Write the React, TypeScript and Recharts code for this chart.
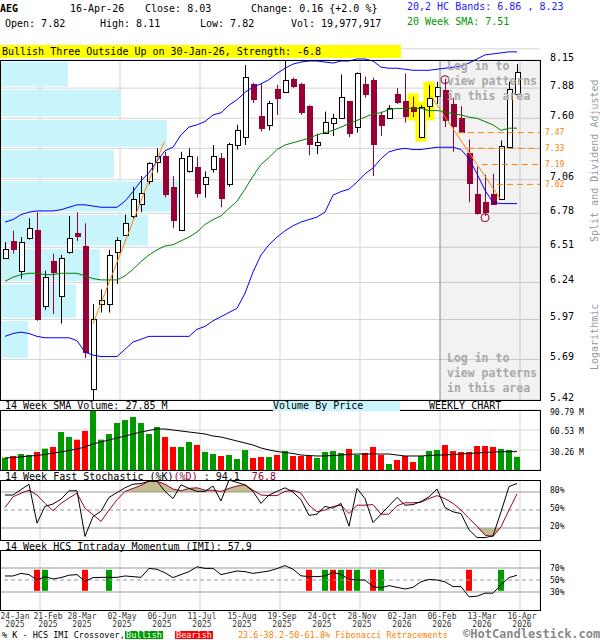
import React from "react";
import {
  ComposedChart,
  Bar,
  Line,
  Area,
  XAxis,
  YAxis,
  CartesianGrid,
  ReferenceArea,
  ReferenceLine,
  ReferenceDot,
  Cell,
} from "recharts";

const MONO = '"DejaVu Sans Mono", "Liberation Mono", monospace';
const MAROON = "#990033";
const VOL_GREEN = "#009900";
const VOL_RED = "#ff0000";
const BLUE = "#0000ff";
const SMA_GREEN = "#008000";
const ORANGE = "#ff8000";
const VBP_BLUE = "#c8f4fc";
const GRID = "#d3d3d3";

// weekly candles, 23-Jan-2025 .. 16-Apr-2026
const opens = [6.43, 6.56, 6.33, 6.58, 6.65, 6.07, 6.40, 6.14, 6.47, 6.62, 6.52, 5.49, 6.08, 6.08, 6.47, 6.61, 6.76, 6.86, 7.05, 7.21, 7.26, 7.0, 6.65, 7.13, 7.17, 7.02, 7.15, 7.25, 7.02, 7.36, 7.43, 7.92, 7.62, 7.54, 7.87, 7.84, 7.97, 7.92, 7.71, 7.36, 7.47, 7.56, 7.6, 7.76, 7.52, 7.92, 7.96, 7.63, 7.6, 7.82, 7.76, 7.7, 7.43, 7.71, 7.81, 7.86, 7.73, 7.6, 7.29, 6.94, 6.87, 6.94, 6.9, 7.34, 7.82];
const highs = [6.55, 6.64, 6.59, 6.74, 6.79, 6.33, 6.46, 6.45, 6.76, 6.79, 6.7, 6.08, 6.19, 6.49, 6.59, 6.77, 7.0, 7.09, 7.21, 7.33, 7.3, 7.09, 7.3, 7.33, 7.26, 7.13, 7.36, 7.29, 7.38, 7.54, 8.1, 7.93, 7.92, 7.76, 7.91, 8.15, 7.98, 7.93, 7.72, 7.46, 7.66, 7.64, 8.01, 7.76, 8.03, 7.99, 7.98, 7.66, 7.72, 7.88, 8.02, 7.8, 7.72, 7.91, 7.94, 7.97, 7.79, 7.71, 7.41, 7.17, 7.1, 7.11, 7.4, 7.94, 8.11];
const lows = [6.42, 6.46, 6.27, 6.57, 5.96, 6.04, 6.01, 5.94, 6.46, 6.56, 5.7, 5.42, 6.02, 6.02, 6.23, 6.6, 6.74, 6.79, 7.02, 7.12, 6.91, 6.66, 6.64, 7.12, 6.91, 6.91, 7.12, 6.83, 7.0, 7.32, 7.36, 7.74, 7.48, 7.49, 7.63, 7.84, 7.88, 7.63, 7.27, 7.28, 7.46, 7.44, 7.6, 7.43, 7.47, 7.79, 7.09, 7.44, 7.6, 7.73, 7.56, 7.61, 7.42, 7.61, 7.73, 7.52, 7.3, 7.47, 6.87, 6.77, 6.76, 6.85, 6.89, 7.34, 7.82];
const closes = [6.5, 6.5, 6.55, 6.66, 5.97, 6.28, 6.32, 6.43, 6.58, 6.6, 5.74, 5.97, 6.11, 6.45, 6.57, 6.7, 6.9, 6.95, 7.2, 7.26, 6.94, 6.73, 7.25, 7.26, 6.95, 7.08, 7.26, 6.91, 7.37, 7.49, 7.99, 7.78, 7.51, 7.74, 7.79, 7.96, 7.9, 7.66, 7.37, 7.39, 7.57, 7.6, 7.8, 7.47, 8.02, 7.82, 7.37, 7.54, 7.69, 7.75, 7.62, 7.67, 7.7, 7.79, 7.89, 7.58, 7.53, 7.48, 7.03, 6.78, 6.79, 6.86, 7.35, 7.87, 8.03];

// 20,2 HC bands and 20 week SMA
const upperBand = [6.71, 6.73, 6.77, 6.79, 6.8, 6.8, 6.8, 6.81, 6.83, 6.85, 6.85, 6.84, 6.83, 6.83, 6.83, 6.88, 6.96, 7.05, 7.12, 7.22, 7.31, 7.34, 7.45, 7.52, 7.54, 7.57, 7.63, 7.65, 7.72, 7.77, 7.84, 7.89, 7.92, 7.96, 8.02, 8.07, 8.11, 8.13, 8.14, 8.14, 8.13, 8.12, 8.14, 8.14, 8.16, 8.16, 8.14, 8.08, 8.07, 8.07, 8.06, 8.05, 8.05, 8.05, 8.06, 8.07, 8.08, 8.09, 8.12, 8.16, 8.2, 8.21, 8.22, 8.23, 8.23];
const lowerBand = [5.85, 5.87, 5.88, 5.87, 5.85, 5.84, 5.84, 5.84, 5.84, 5.82, 5.74, 5.72, 5.71, 5.71, 5.71, 5.76, 5.81, 5.83, 5.85, 5.85, 5.85, 5.85, 5.85, 5.85, 5.9, 5.92, 5.96, 5.99, 6.02, 6.05, 6.16, 6.32, 6.45, 6.53, 6.59, 6.64, 6.68, 6.71, 6.73, 6.75, 6.79, 6.93, 6.96, 6.98, 7.04, 7.11, 7.16, 7.24, 7.3, 7.32, 7.33, 7.32, 7.32, 7.33, 7.34, 7.34, 7.34, 7.32, 7.24, 7.11, 6.97, 6.87, 6.86, 6.86, 6.86];
const sma20 = [6.25, 6.28, 6.3, 6.31, 6.31, 6.3, 6.3, 6.31, 6.31, 6.31, 6.29, 6.27, 6.26, 6.26, 6.26, 6.29, 6.34, 6.4, 6.45, 6.49, 6.52, 6.53, 6.56, 6.59, 6.63, 6.69, 6.73, 6.76, 6.82, 6.88, 6.98, 7.09, 7.19, 7.25, 7.32, 7.36, 7.38, 7.4, 7.42, 7.45, 7.47, 7.49, 7.52, 7.55, 7.58, 7.61, 7.64, 7.65, 7.68, 7.69, 7.69, 7.69, 7.69, 7.67, 7.67, 7.66, 7.64, 7.63, 7.61, 7.6, 7.57, 7.54, 7.49, 7.51, 7.51];

// volume in millions and its 14 week SMA
const volumes = [18.6, 21.2, 24.2, 22.7, 27.2, 32.3, 34.8, 57.5, 49.9, 45.9, 59.0, 90.8, 45.9, 54.5, 71.1, 75.6, 80.2, 71.1, 54.5, 65.1, 49.9, 34.8, 34.8, 42.4, 37.8, 27.2, 24.2, 21.2, 22.7, 16.6, 30.3, 18.2, 19.7, 19.7, 22.7, 28.7, 21.2, 21.2, 21.2, 18.2, 27.2, 28.7, 25.7, 31.8, 22.7, 25.7, 34.8, 22.7, 9.1, 15.1, 21.2, 12.1, 21.2, 28.7, 30.3, 37.8, 28.7, 27.2, 27.2, 36.3, 36.3, 34.8, 31.8, 30.3, 20.0];
const volumeSma = [18.2, 18.9, 19.7, 21.2, 21.9, 23.5, 25.7, 27.2, 29.5, 31.8, 34.8, 39.3, 42.4, 45.4, 48.4, 51.4, 54.5, 57.5, 59.8, 62.0, 62.0, 60.5, 59.0, 57.5, 56.0, 54.5, 51.4, 49.9, 46.9, 43.9, 40.9, 37.8, 33.3, 30.3, 28.0, 26.5, 25.0, 22.7, 21.9, 21.2, 21.2, 21.9, 22.7, 23.5, 24.2, 24.2, 24.2, 24.2, 24.2, 22.7, 21.2, 21.2, 21.2, 21.9, 22.7, 22.7, 23.5, 24.2, 25.0, 25.7, 26.5, 27.2, 27.5, 27.7, 27.85];

// 14 week fast stochastic
const stochK = [75, 75, 84, 93, 28, 56, 60, 68, 82, 82, 6, 39, 48, 71, 79, 87, 93, 94, 98, 98, 81, 69, 92, 86, 81, 81, 90, 65, 100, 96, 92, 81, 61, 75, 81, 87, 80, 67, 41, 43, 56, 53, 61, 23, 86, 69, 29, 43, 57, 71, 58, 59, 64, 72, 85, 54, 47, 44, 17, 4, 4, 7, 47, 89, 94.1];
const stochD = [54, 72, 78, 83, 75, 61, 49, 61, 70, 78, 53, 42, 31, 50, 67, 81, 86, 91, 98, 98, 93, 85, 82, 86, 87, 83, 83, 81, 86, 90, 92, 83, 75, 74, 74, 81, 83, 78, 58, 47, 50, 56, 58, 44, 58, 58, 59, 43, 43, 57, 62, 62, 63, 69, 74, 69, 61, 50, 36, 23, 8, 6, 22, 50, 76.8];

// 14 week HCS intraday momentum
const imi = [56.7, 56.7, 61, 59, 50, 55.6, 51.7, 54, 58, 59, 48, 54, 54.4, 54.4, 54.4, 56.7, 55.6, 54.4, 69.4, 67.8, 62, 54, 59, 64, 72, 69.4, 69.4, 59, 62, 65, 64, 61, 63, 65, 69, 74, 68, 57, 55.6, 55.6, 56.7, 62.8, 59.4, 51, 50, 50, 39, 37, 40.6, 37.8, 35, 37.8, 47, 51, 50, 47, 39, 39, 22, 23, 28, 28, 42, 54, 57.9];
const imiBullish = [5, 13, 40, 42, 44, 47, 62];
const imiBearish = [4, 10, 38, 41, 43, 46, 58];
const imiBarRange = [32, 67];

// annotations
const patternWeeks = [51, 52, 53];
const patternCircles = [
  { k: 55, price: 7.96 },
  { k: 60, price: 6.745 },
];
const trendLines = [
  { k1: 11, p1: 5.94, k2: 19.9, p2: 7.39 },
  { k1: 53.3, p1: 7.8, k2: 61.9, p2: 6.9 },
];
const fibLevels = [7.47, 7.33, 7.19, 7.02];
const fibStartWeek = [56.6, 57.9, 59.6, 61.5];

// volume by price, bins follow the price grid (relative volume, 1000 = full width)
const vbpLow = [7.88, 7.6, 7.33, 7.06, 6.78, 6.51, 6.24, 5.97, 5.69];
const vbpHigh = [8.15, 7.88, 7.6, 7.33, 7.06, 6.78, 6.51, 6.24, 5.97];
const vbpVolume = [126, 224, 309, 211, 337, 274, 185, 141, 52];

const priceTicks = [5.42, 5.69, 5.97, 6.24, 6.51, 6.78, 7.06, 7.33, 7.6, 7.88, 8.15];
const volTicks = [30.26, 60.53, 90.79];
const stochTicks = [20, 50, 80];
const imiTicks = [30, 50, 70];

const weekDomain = [-0.625, 66.875];
const gridWeeks = [4.375, 9.375, 14.375, 19.375, 24.375, 29.375, 34.375, 39.375, 44.375, 49.375, 54.375, 59.375, 64.375];
const labelWeeks = [1.25, 5.375, 9.625, 14.625, 19.625, 24.625, 29.625, 34.625, 39.625, 44.625, 49.625, 54.625, 59.625, 64.625];
const dateLabels = ["24-Jan", "21-Feb", "28-Mar", "02-May", "06-Jun", "11-Jul", "15-Aug", "19-Sep", "24-Oct", "28-Nov", "02-Jan", "06-Feb", "13-Mar", "16-Apr"];
const yearLabels = ["2025", "2025", "2025", "2025", "2025", "2025", "2025", "2025", "2025", "2025", "2026", "2026", "2026", "2026"];

const weekSpan = weekDomain[1] - weekDomain[0];

// the frame shows 5.42..8.15, the upper band may poke above it up to 8.26
const PRICE_MIN = 5.42;
const PRICE_FRAME_MAX = 8.15;
const PRICE_MAX = 8.26;
const FRAME_TOP = 60;
const FRAME_H = 340;
const priceTopMargin =
  FRAME_TOP - (FRAME_H * Math.log(PRICE_MAX / PRICE_FRAME_MAX)) / Math.log(PRICE_FRAME_MAX / PRICE_MIN);

const weeks = opens.map((open, k) => ({
  k,
  open,
  high: highs[k],
  low: lows[k],
  close: closes[k],
  range: [lows[k], highs[k]],
  vol: volumes[k],
  volSma: volumeSma[k],
  upper: upperBand[k],
  lower: lowerBand[k],
  sma: sma20[k],
  pk: stochK[k],
  pd: stochD[k],
  over: [80, Math.max(80, stochD[k])],
  under: [Math.min(20, stochD[k]), 20],
  imi: imi[k],
  cross: imiBullish.includes(k) || imiBearish.includes(k) ? imiBarRange : null,
}));

function Candle(props: any) {
  const { x, y, width, height, payload } = props;
  if (payload == null || x == null || y == null) return <g />;
  const { open, close, high, low } = payload;
  const lh = Math.log(high);
  const span = lh - Math.log(low) || 1;
  const toY = (v: number) => y + ((lh - Math.log(v)) / span) * height;
  const up = close >= open;
  const color = up ? "#000" : MAROON;
  const cx = Math.round(x + width / 2) + 0.5;
  const top = Math.round(toY(Math.max(open, close))) + 0.5;
  const bot = Math.round(toY(Math.min(open, close))) + 0.5;
  const left = Math.round(cx - 3) + 0.5;
  return (
    <g>
      <line x1={cx} x2={cx} y1={y} y2={y + height} stroke={color} strokeWidth={1} />
      <rect x={left} y={top} width={5} height={Math.max(bot - top, 1)} fill={up ? "#fff" : MAROON} stroke={color} strokeWidth={1} />
    </g>
  );
}

function PriceTick(props: any) {
  const { x, y, payload } = props;
  if (payload.value === 7.33) return <g />;
  return (
    <text x={x + 10} y={y + 0.5} fontSize={10} fontFamily={MONO} fill="#000">
      {payload.value.toFixed(2)}
    </text>
  );
}

function VolTick(props: any) {
  const { x, y, payload } = props;
  return (
    <text x={x + 10} y={y + 4.5} fontSize={8} fontFamily={MONO} fill="#000">
      {payload.value.toFixed(2) + " M"}
    </text>
  );
}

function PctTick(dy: number) {
  return (props: any) => (
    <text x={props.x + 10} y={props.y + dy} fontSize={8} fontFamily={MONO} fill="#000">
      {props.payload.value + "%"}
    </text>
  );
}

function DateTick(props: any) {
  const { x, y, index } = props;
  return (
    <g fontFamily={MONO} fontSize={8} fill="#333">
      <text x={x} y={y + 8.5} textAnchor="middle">{dateLabels[index]}</text>
      <text x={x} y={y + 16.5} textAnchor="middle">{yearLabels[index]}</text>
    </g>
  );
}

const Txt = ({ x, y, size = 10, color = "#000", bold = false, bg, w, center = false, children }: any) => (
  <div
    style={{
      position: "absolute",
      left: x,
      top: y - size / 2,
      fontSize: size,
      lineHeight: `${size}px`,
      height: size,
      color,
      fontWeight: bold ? "bold" : "normal",
      background: bg,
      width: w,
      textAlign: center ? "center" : "left",
      whiteSpace: "pre",
      fontFamily: MONO,
    }}
  >
    {children}
  </div>
);

const Frame = ({ top, height }: { top: number; height: number }) => (
  <div
    style={{
      position: "absolute",
      left: 0,
      top,
      width: 541,
      height: height + 1,
      border: "1px solid #000",
      boxSizing: "border-box",
      pointerEvents: "none",
    }}
  />
);

const hiddenWeekAxis = (
  <XAxis dataKey="k" type="number" domain={weekDomain} ticks={gridWeeks} hide height={0} allowDataOverflow />
);

const noAnim = { isAnimationActive: false, dot: false, activeDot: false } as const;

export default function App() {
  return (
    <div style={{ position: "absolute", left: 0, top: 0, width: 600, height: 640, background: "#fff", overflow: "hidden", fontFamily: MONO }}>
      {/* price panel */}
      <div style={{ position: "absolute", left: 0, top: 0 }}>
        <ComposedChart width={600} height={410} data={weeks} margin={{ top: priceTopMargin, right: 0, bottom: 10, left: 0 }}>
          <CartesianGrid stroke={GRID} y={FRAME_TOP} height={FRAME_H} />
          {hiddenWeekAxis}
          <YAxis
            orientation="right"
            scale="log"
            type="number"
            domain={[PRICE_MIN, PRICE_MAX]}
            ticks={priceTicks}
            interval={0}
            allowDataOverflow
            width={60}
            axisLine={false}
            tickLine={false}
            tickSize={0}
            tickMargin={0}
            tick={PriceTick}
          />
          {vbpVolume.map((v, i) => (
            <ReferenceArea
              key={"vbp" + i}
              x1={weekDomain[0]}
              x2={weekDomain[0] + (v / 1000) * weekSpan}
              y1={vbpLow[i] * 1.002}
              y2={vbpHigh[i] / 1.002}
              fill={VBP_BLUE}
              fillOpacity={1}
              stroke="none"
            />
          ))}
          <ReferenceArea x1={gridWeeks[10]} x2={weekDomain[1]} y1={PRICE_MIN} y2={PRICE_FRAME_MAX} fill="#000" fillOpacity={0.05} stroke="none" />
          <ReferenceLine
            segment={[
              { x: gridWeeks[10], y: PRICE_MIN },
              { x: gridWeeks[10], y: PRICE_FRAME_MAX },
            ]}
            stroke="#999"
          />
          {patternWeeks.map((k) => (
            <ReferenceArea
              key={"pat" + k}
              x1={k - 0.7}
              x2={k + 0.7}
              y1={lows[k] / 1.004}
              y2={highs[k] * 1.004}
              fill="#ffff00"
              fillOpacity={1}
              stroke="none"
            />
          ))}
          {fibLevels.map((lvl, i) => (
            <ReferenceLine
              key={"fib" + i}
              segment={[
                { x: fibStartWeek[i], y: lvl },
                { x: weekDomain[1], y: lvl },
              ]}
              stroke={ORANGE}
              strokeDasharray="6 4"
              label={{ value: lvl.toFixed(2), position: "right", fill: ORANGE, fontSize: 8, fontFamily: MONO }}
            />
          ))}
          <Line type="linear" dataKey="upper" stroke={BLUE} strokeWidth={1} {...noAnim} />
          <Line type="linear" dataKey="lower" stroke={BLUE} strokeWidth={1} {...noAnim} />
          <Line type="linear" dataKey="sma" stroke={SMA_GREEN} strokeWidth={1} {...noAnim} />
          <Bar dataKey="range" barSize={6} shape={Candle} isAnimationActive={false} />
          {trendLines.map((t, i) => (
            <ReferenceLine
              key={"tl" + i}
              segment={[
                { x: t.k1, y: t.p1 },
                { x: t.k2, y: t.p2 },
              ]}
              stroke={ORANGE}
            />
          ))}
          {patternCircles.map((c, i) => (
            <ReferenceDot key={"pc" + i} x={c.k} y={c.price} r={4} fill="none" stroke={MAROON} />
          ))}
        </ComposedChart>
      </div>

      {/* volume panel */}
      <div style={{ position: "absolute", left: 0, top: 404 }}>
        <ComposedChart width={600} height={72} data={weeks} margin={{ top: 6, right: 0, bottom: 6, left: 0 }}>
          <CartesianGrid stroke={GRID} />
          {hiddenWeekAxis}
          <YAxis
            orientation="right"
            type="number"
            domain={[0, 90.79]}
            ticks={volTicks}
            interval={0}
            allowDataOverflow
            width={60}
            axisLine={false}
            tickLine={false}
            tickSize={0}
            tickMargin={0}
            tick={VolTick}
          />
          <Bar dataKey="vol" barSize={6} isAnimationActive={false}>
            {weeks.map((w) => (
              <Cell key={w.k} fill={w.close >= w.open ? VOL_GREEN : VOL_RED} />
            ))}
          </Bar>
          <Line type="linear" dataKey="volSma" stroke="#000" strokeWidth={1} {...noAnim} />
        </ComposedChart>
      </div>

      {/* stochastic panel */}
      <div style={{ position: "absolute", left: 0, top: 474 }}>
        <ComposedChart width={600} height={72} data={weeks} margin={{ top: 6, right: 0, bottom: 6, left: 0 }}>
          <CartesianGrid stroke={GRID} horizontal={false} />
          {hiddenWeekAxis}
          <YAxis
            orientation="right"
            type="number"
            domain={[0, 100]}
            ticks={stochTicks}
            interval={0}
            width={60}
            axisLine={false}
            tickLine={false}
            tickSize={0}
            tickMargin={0}
            tick={PctTick(1)}
          />
          <ReferenceLine y={80} stroke="#999" />
          <ReferenceLine y={20} stroke="#999" />
          <ReferenceLine y={50} stroke="#999" strokeDasharray="4 3" />
          <Area type="linear" dataKey="over" fill="#c2bd8c" fillOpacity={1} stroke="none" isAnimationActive={false} />
          <Area type="linear" dataKey="under" fill="#c2bd8c" fillOpacity={1} stroke="none" isAnimationActive={false} />
          <Line type="linear" dataKey="pd" stroke={MAROON} strokeWidth={1} {...noAnim} />
          <Line type="linear" dataKey="pk" stroke="#000" strokeWidth={1} {...noAnim} />
        </ComposedChart>
      </div>

      {/* IMI panel */}
      <div style={{ position: "absolute", left: 0, top: 544 }}>
        <ComposedChart width={600} height={92} data={weeks} margin={{ top: 6, right: 0, bottom: 2, left: 0 }}>
          <CartesianGrid stroke={GRID} horizontal={false} />
          {hiddenWeekAxis}
          <XAxis
            xAxisId="labels"
            type="number"
            dataKey="k"
            domain={weekDomain}
            ticks={labelWeeks}
            allowDataOverflow
            height={24}
            axisLine={false}
            tickLine={false}
            tickSize={0}
            tickMargin={0}
            interval={0}
            tick={DateTick}
          />
          <YAxis
            orientation="right"
            type="number"
            domain={[0, 100]}
            ticks={imiTicks}
            interval={0}
            width={60}
            axisLine={false}
            tickLine={false}
            tickSize={0}
            tickMargin={0}
            tick={PctTick(3)}
          />
          <ReferenceLine y={70} stroke="#999" />
          <ReferenceLine y={30} stroke="#999" />
          <ReferenceLine y={50} stroke="#999" strokeDasharray="4 3" />
          <Bar dataKey="cross" barSize={6} isAnimationActive={false}>
            {weeks.map((w) => (
              <Cell key={w.k} fill={imiBullish.includes(w.k) ? VOL_GREEN : VOL_RED} />
            ))}
          </Bar>
          <Line type="linear" dataKey="imi" stroke="#000" strokeWidth={1} {...noAnim} />
        </ComposedChart>
      </div>

      <Frame top={FRAME_TOP} height={FRAME_H} />
      <Frame top={410} height={60} />
      <Frame top={480} height={60} />
      <Frame top={550} height={60} />

      {/* header */}
      <Txt x={0} y={9} bold>AEG</Txt>
      <Txt x={70} y={9}>16-Apr-26</Txt>
      <Txt x={145} y={9}>Close: 8.03</Txt>
      <Txt x={251} y={9}>Change: 0.16 {"{"}+2.0 %{"}"}</Txt>
      <Txt x={407} y={7} color="#1a1aff">20,2 HC Bands: 6.86 , 8.23</Txt>
      <Txt x={5} y={24}>Open: 7.82</Txt>
      <Txt x={100} y={24}>High: 8.11</Txt>
      <Txt x={200} y={24}>Low: 7.82</Txt>
      <Txt x={291} y={24}>Vol: 19,977,917</Txt>
      <Txt x={407} y={22} color="#009900">20 Week SMA: 7.51</Txt>
      <div style={{ position: "absolute", left: 0, top: 45, width: 401, height: 13, background: "#ffff00" }} />
      <Txt x={2} y={51.5}>Bullish Three Outside Up on 30-Jan-26, Strength: -6.8</Txt>

      {/* patterns notice */}
      <Txt x={447} y={67} size={11.5} bold color="#a8a8a8">Log in to</Txt>
      <Txt x={447} y={82} size={11.5} bold color="#a8a8a8">view patterns</Txt>
      <Txt x={447} y={97} size={11.5} bold color="#a8a8a8">in this area</Txt>
      <Txt x={447} y={359} size={11.5} bold color="#a8a8a8">Log in to</Txt>
      <Txt x={447} y={374} size={11.5} bold color="#a8a8a8">view patterns</Txt>
      <Txt x={447} y={389} size={11.5} bold color="#a8a8a8">in this area</Txt>

      {/* right side captions */}
      <div style={{ position: "absolute", left: 595 - 81, top: 161 - 5, width: 162, height: 10, fontSize: 10, lineHeight: "10px", color: "#999", transform: "rotate(-90deg)", textAlign: "center", whiteSpace: "pre" }}>
        Split and Dividend Adjusted
      </div>
      <div style={{ position: "absolute", left: 595 - 33, top: 337 - 5, width: 66, height: 10, fontSize: 10, lineHeight: "10px", color: "#999", transform: "rotate(-90deg)", textAlign: "center", whiteSpace: "pre" }}>
        Logarithmic
      </div>

      {/* panel titles */}
      <Txt x={5} y={405.5}>14 Week SMA Volume: 27.85 M</Txt>
      <Txt x={273} y={405.5} bg={VBP_BLUE} w={127}>Volume By Price</Txt>
      <Txt x={429} y={405.5}>WEEKLY CHART</Txt>
      <div style={{ position: "absolute", left: 5, top: 471.5, fontSize: 10, lineHeight: "10px", whiteSpace: "pre" }}>
        14 Week Fast Stochastic (%K)<span style={{ color: MAROON }}>(%D)</span> : 94.1  <span style={{ color: MAROON }}>76.8</span>
      </div>
      <Txt x={5} y={546.5}>14 Week HCS Intraday Momentum (IMI): 57.9</Txt>

      {/* footer */}
      <Txt x={2} y={635} size={8.5}>% K - HCS IMI Crossover,</Txt>
      <Txt x={125} y={635} size={8.5} color="#fff" bg={VOL_GREEN} w={38} center>Bullish</Txt>
      <Txt x={175} y={635} size={8.5} color="#fff" bg={VOL_RED} w={38} center>Bearish</Txt>
      <Txt x={238} y={635} size={8.5} color={ORANGE}>23.6-38.2-50-61.8% Fibonacci Retracements</Txt>
      <Txt x={463} y={634} size={12} bold color="#888">©HotCandlestick.com</Txt>
    </div>
  );
}
